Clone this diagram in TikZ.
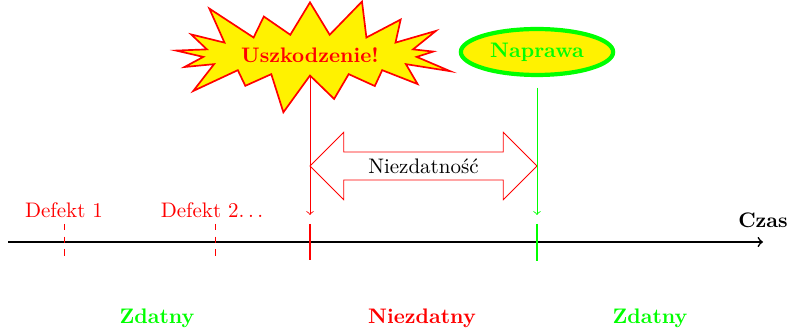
\documentclass[tikz,border=0pt]{standalone}
\usetikzlibrary{shapes.symbols,shapes.geometric,shapes.arrows}
\begin{document}
\begin{tikzpicture}[x=0.016718cm,y=-0.016718cm,
  lbl/.style={font=\bfseries},
  tick/.style={line width=1.2pt},
  defline/.style={red,dashed},
  conn/.style={->},
]
\useasboundingbox (0,0) rectangle (789,334);
% axis
\coordinate (a0) at (8,242);
\coordinate (a1) at (763,242);
\draw[thick,->] (a0) -- (a1);
\node[lbl] (czas) at (763,220) {Czas};
% defects
\node[red] (d1) at (64,210) {Defekt 1};
\node[red] (d2) at (212,210) {Defekt 2$\ldots$};
\coordinate (d1t) at (64,224); \coordinate (d1b) at (64,260);
\coordinate (d2t) at (215,224); \coordinate (d2b) at (215,260);
\draw[defline] (d1t) -- (d1b);
\draw[defline] (d2t) -- (d2b);
% ticks
\coordinate (rt) at (310,224); \coordinate (rb) at (310,260);
\coordinate (gt) at (537,224); \coordinate (gb) at (537,261);
\draw[tick,red] (rt) -- (rb);
\draw[tick,green] (gt) -- (gb);
% top nodes
\node[starburst,draw=red,fill=yellow,thick,text=red,font=\bfseries,
  starburst point height=0.75cm,
  minimum width=4.65cm,minimum height=1.7cm] (burst) at (310,55) {Uszkodzenie!};
\node[ellipse,draw=green,fill=yellow,line width=2pt,text=green,font=\bfseries,
  minimum width=2.52cm,minimum height=0.62cm] (nap) at (537,52) {Naprawa};
% double arrow
\node[double arrow,draw=red,fill=white,minimum height=3.795cm,minimum width=1.103cm,
  inner ysep=2.9pt,double arrow head extend=0.33cm] (niez) at (423.5,166) {Niezdatno\'s\'c};
% connectors
\coordinate (rarr) at (310,215);
\coordinate (garr) at (537,215);
\draw[conn,red] (burst.south -| rarr) -- (rarr);
\draw[conn,green,shorten <=5pt] (nap.south -| garr) -- (garr);
% state labels
\node[lbl,green] (z1) at (157,318) {Zdatny};
\node[lbl,red] (nz) at (422,318) {Niezdatny};
\node[lbl,green] (z2) at (650,318) {Zdatny};
\end{tikzpicture}
\end{document}
